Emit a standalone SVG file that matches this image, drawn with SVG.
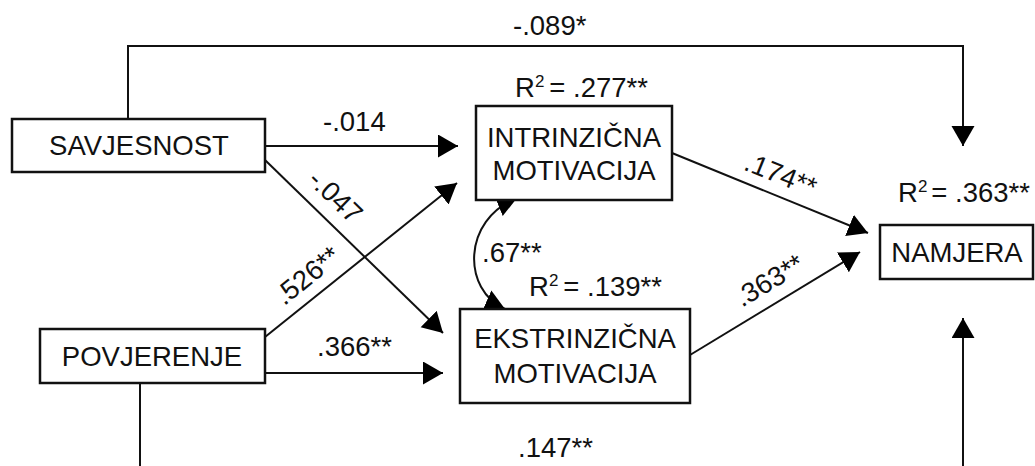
<svg xmlns="http://www.w3.org/2000/svg" width="1035" height="466" viewBox="0 0 1035 466">
<defs>
<marker id="ah" markerUnits="userSpaceOnUse" markerWidth="22" markerHeight="24" refX="20" refY="11.5" orient="auto-start-reverse" viewBox="0 0 22 24">
<path d="M0,0 L20,11.5 L0,23 z" fill="#000"/>
</marker>
<style>
text{font-family:"Liberation Sans",Arial,sans-serif;font-size:27.5px;fill:#111}
.box{fill:#fff;stroke:#111;stroke-width:2.5}
.c{fill:none;stroke:#111;stroke-width:2}
.a{marker-end:url(#ah)}
.m{text-anchor:middle}
</style>
</defs>
<rect width="1035" height="466" fill="#fff"/>
<g id="connectors">
<path class="c a" d="M128,119 V46 H963 V146"/>
<path class="c a" d="M265,146 H458"/>
<path class="c a" d="M265,160 L443,333"/>
<path class="c a" d="M265,337 L457,183"/>
<path class="c a" d="M265,373 H443"/>
<path class="c a" d="M672,153 L868,233"/>
<path class="c a" d="M690,355 L860,252"/>
<path class="c" d="M140,383 V466"/>
<path class="c a" d="M963,466 V318"/>
<path class="c" style="marker-start:url(#ah);marker-end:url(#ah)" d="M517,198 C462,220 462,290 505,309"/>
<text x="513" y="35">-.089*</text>
<text x="323" y="131">-.014</text>
<text class="m" transform="translate(336,196) rotate(44)" y="10">-.047</text>
<text class="m" transform="translate(307,275) rotate(-39)" y="10">.526**</text>
<text x="317" y="356">.366**</text>
<text x="482" y="262">.67**</text>
<text class="m" transform="translate(781,174) rotate(22)" y="10">.174**</text>
<text class="m" transform="translate(769,280) rotate(-31)" y="10">.363**</text>
<text x="518" y="457">.147**</text>
</g>
<g id="savjesnost">
<rect class="box" x="12" y="119" width="253" height="53"/>
<text class="m" x="139" y="155">SAVJESNOST</text>
</g>
<g id="povjerenje">
<rect class="box" x="40" y="329" width="225" height="54"/>
<text class="m" x="152" y="366">POVJERENJE</text>
</g>
<g id="intrinzicna">
<rect class="box" x="476" y="106" width="196" height="94"/>
<text class="m" x="574" y="147">INTRINZIČNA</text>
<text class="m" x="574" y="180">MOTIVACIJA</text>
<text x="515" y="97">R<tspan font-size="17" dy="-10">2</tspan><tspan dx="5" dy="10">= .277**</tspan></text>
</g>
<g id="ekstrinzicna">
<rect class="box" x="460" y="309" width="230" height="94"/>
<text class="m" x="575" y="348">EKSTRINZIČNA</text>
<text class="m" x="575" y="383">MOTIVACIJA</text>
<text x="529" y="296">R<tspan font-size="17" dy="-10">2</tspan><tspan dx="5" dy="10">= .139**</tspan></text>
</g>
<g id="namjera">
<rect class="box" x="880" y="225" width="153" height="54"/>
<text class="m" x="957" y="262">NAMJERA</text>
<text x="898" y="202">R<tspan font-size="17" dy="-10">2</tspan><tspan dx="4" dy="10">= .363**</tspan></text>
</g>
</svg>
